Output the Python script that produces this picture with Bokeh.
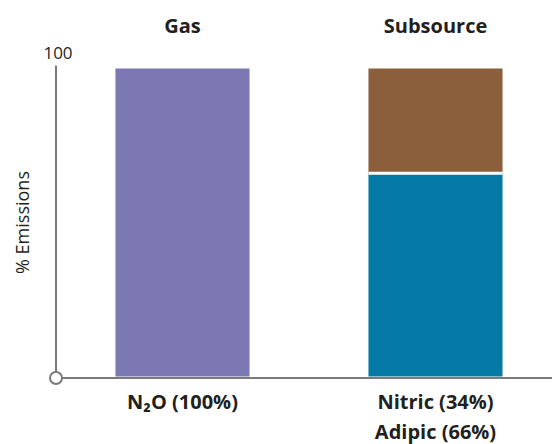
from bokeh.plotting import figure
from bokeh.models import Range1d
from bokeh.core.properties import value
from bokeh.embed import file_html
from bokeh.resources import INLINE

# ---- data ----
groups = ["Gas", "Subsource"]
gas_share = [100, 0]          # N2O
adipic_share = [0, 66]        # Subsource bottom
nitric_share = [0, 34]        # Subsource top
x_labels_1 = ["N\u2082O (100%)", "Nitric (34%)"]
x_labels_2 = ["", "Adipic (66%)"]
y_max_label = "100"
y_title = "% Emissions"

purple = "#7B78B3"
blue = "#057AA6"
brown = "#8B5E3C"
axis_gray = "#7A7A7A"
text_col = "#231F20"
FONT = "Open Sans"

xs = list(range(len(groups)))

p = figure(width=552, height=444, output_backend="svg", toolbar_location=None,
           x_range=Range1d(-0.7194, 1.4625), y_range=Range1d(-22.08, 122.08),
           min_border=0, min_border_left=0, min_border_right=0,
           min_border_top=0, min_border_bottom=0)
p.axis.visible = False
p.grid.visible = False
p.outline_line_color = None
p.background_fill_color = None
p.border_fill_color = None

bw = 0.53
# Gas bar
p.vbar(x=[xs[0]], bottom=0, top=[gas_share[0]], width=bw, fill_color=purple,
       line_color=None)
# Subsource stacked
b0 = adipic_share[1]
p.vbar(x=[xs[1]], bottom=0, top=[b0], width=bw, fill_color=blue, line_color=None)
p.vbar(x=[xs[1]], bottom=[b0], top=[b0 + nitric_share[1]], width=bw,
       fill_color=brown, line_color=None)
# white separator
p.segment(x0=[xs[1] - bw / 2], x1=[xs[1] + bw / 2], y0=[b0], y1=[b0],
          line_color="white", line_width=3)

# axes
ax_x = -0.5
ax_y = -0.5
p.segment(x0=[ax_x], x1=[ax_x], y0=[ax_y], y1=[101], line_color=axis_gray, line_width=2)
p.segment(x0=[ax_x], x1=[1.5], y0=[ax_y], y1=[ax_y], line_color=axis_gray, line_width=2)
p.scatter(x=[ax_x], y=[ax_y], size=12, marker="circle", fill_color="white",
          line_color=axis_gray, line_width=2)

# 100 label
p.text(x=[ax_x], y=[100], text=[y_max_label], text_font=value(FONT),
       text_font_size="17px", text_color=text_col, text_align="center",
       text_baseline="middle", y_offset=-16, x_offset=2)

# titles
p.text(x=xs, y=[100] * 2, text=groups, text_font=value(FONT), text_font_size="20px",
       text_font_style="bold", text_color=text_col, text_align="center",
       text_baseline="middle", y_offset=-43)

# x labels
p.text(x=xs, y=[0] * 2, text=x_labels_1, text_font=value(FONT), text_font_size="20px",
       text_font_style="bold", text_color=text_col, text_align="center",
       text_baseline="middle", y_offset=25)
p.text(x=xs, y=[0] * 2, text=x_labels_2, text_font=value(FONT), text_font_size="20px",
       text_font_style="bold", text_color=text_col, text_align="center",
       text_baseline="middle", y_offset=55)

# y title
p.text(x=[ax_x], y=[50], text=[y_title], text_font=value(FONT), text_font_size="18px",
       text_color=text_col, text_align="center", text_baseline="middle",
       angle=1.5708, x_offset=-34, y_offset=0)

open("out.html", "w").write(file_html(p, INLINE))
